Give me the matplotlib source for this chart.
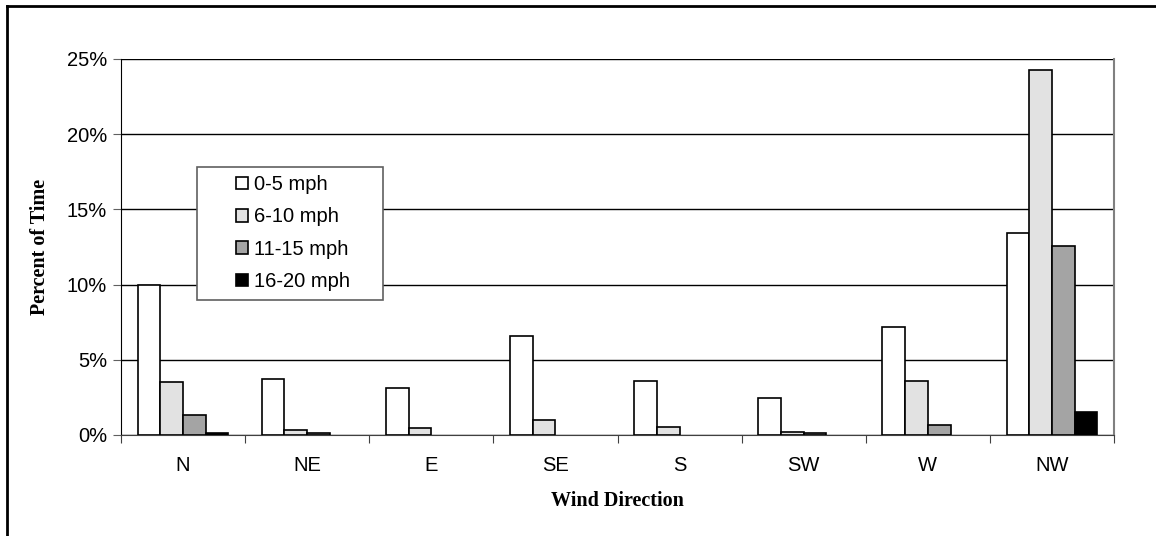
import numpy as np
import matplotlib.pyplot as plt
from matplotlib.lines import Line2D
from matplotlib.patches import Rectangle
from matplotlib.ticker import FuncFormatter

directions = ['N', 'NE', 'E', 'SE', 'S', 'SW', 'W', 'NW']
speed_labels = ['0-5 mph', '6-10 mph', '11-15 mph', '16-20 mph']

# percent of time per speed band
speed_0_5 = [10.0, 3.7, 3.1, 6.6, 3.6, 2.45, 7.2, 13.4]
speed_6_10 = [3.5, 0.33, 0.45, 1.0, 0.55, 0.2, 3.6, 24.25]
speed_11_15 = [1.3, 0.12, 0.0, 0.0, 0.0, 0.1, 0.65, 12.55]
speed_16_20 = [0.12, 0.0, 0.0, 0.0, 0.0, 0.0, 0.0, 1.5]

series = [speed_0_5, speed_6_10, speed_11_15, speed_16_20]
colors = ['white', '#e2e2e2', '#a4a4a4', 'black']

fig = plt.figure(figsize=(11.56, 5.36), dpi=100)
ax = fig.add_axes([121 / 1156, 101 / 536, 993 / 1156, 376 / 536])

x = np.arange(len(directions))
w = 0.183
for i, (vals, col) in enumerate(zip(series, colors)):
    v = np.array(vals, dtype=float)
    v[v == 0] = np.nan  # empty bands draw nothing
    ax.bar(x + (i - 1.5) * w, v, width=w, color=col, edgecolor='black',
           linewidth=1.2, label=speed_labels[i], zorder=3)

ax.set_xlim(-0.5, 7.5)
ax.set_ylim(0, 25)
ax.set_yticks(np.arange(0, 26, 5))
ax.yaxis.set_major_formatter(FuncFormatter(lambda v, p: f'{v:.0f}%'))
ax.yaxis.grid(True, color='black', linewidth=1, zorder=0)

ax.set_xticks(np.arange(-0.5, 8, 1))
ax.set_xticklabels([])
ax.set_xticks(x, minor=True)
ax.set_xticklabels(directions, minor=True)
ax.tick_params(axis='x', which='minor', length=0, pad=15, labelsize=14.5)
ax.tick_params(axis='x', which='major', length=6, direction='out', color='#404040')
ax.tick_params(axis='y', length=6, direction='out', color='#606060', labelsize=14.5, pad=4)

ax.spines['top'].set_visible(False)
ax.spines['right'].set_color('#808080')
ax.spines['right'].set_linewidth(1.5)
ax.spines['left'].set_color('black')
ax.spines['bottom'].set_color('#404040')

ax.set_xlabel('Wind Direction', fontfamily='Liberation Serif', fontweight='bold',
              fontsize=14.5, labelpad=12)
ax.set_ylabel('Percent of Time', fontfamily='Liberation Serif', fontweight='bold',
              fontsize=14.5, labelpad=12)
for lab in ax.get_xticklabels(minor=True) + ax.get_yticklabels():
    lab.set_fontfamily('Liberation Sans')

leg = ax.legend(loc='upper left', bbox_to_anchor=(0.1158, 0.691), borderaxespad=0,
                frameon=False, borderpad=0,
                handlelength=0.6, handleheight=0.6, handletextpad=0.3,
                labelspacing=0.66,
                prop={'family': 'Liberation Sans', 'size': 14.5})
leg.set_zorder(6)
ax.add_patch(Rectangle((0.0765, 0.359), 0.1873, 0.3538, transform=ax.transAxes,
                       facecolor='white', edgecolor='#606060', linewidth=1.2,
                       zorder=5))

# outer chart border (cut off at right and bottom)
fig.add_artist(Line2D([7 / 1156, 7 / 1156], [0, 1 - 6 / 536], color='black',
                      linewidth=2, transform=fig.transFigure))
fig.add_artist(Line2D([7 / 1156, 1], [1 - 6 / 536, 1 - 6 / 536], color='black',
                      linewidth=2, transform=fig.transFigure))

fig.savefig('out.png', dpi=100)
